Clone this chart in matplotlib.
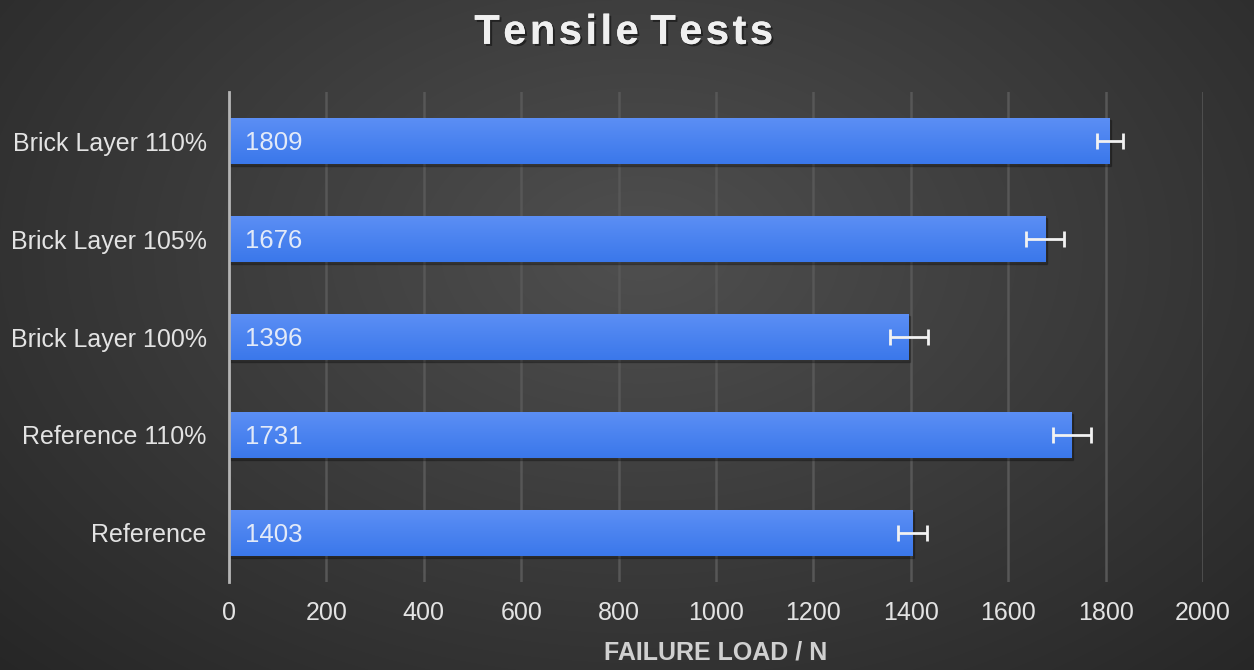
import numpy as np
import matplotlib
matplotlib.use('Agg')
import matplotlib.pyplot as plt
import matplotlib.patheffects as pe

categories = ['Reference', 'Reference 110%', 'Brick Layer 100%', 'Brick Layer 105%', 'Brick Layer 110%']
loads = [1403, 1731, 1396, 1676, 1809]
errors = [30, 40, 39, 39, 27]
xticks = [0, 200, 400, 600, 800, 1000, 1200, 1400, 1600, 1800, 2000]

plt.rcParams['font.family'] = ['Liberation Sans', 'DejaVu Sans']

fig = plt.figure(figsize=(12.54, 6.70), dpi=100)

# radial background
bg = fig.add_axes([0, 0, 1, 1])
yy, xx = np.mgrid[0:670, 0:1254]
r = np.sqrt(((xx - 640) / 900.0) ** 2 + ((yy - 250) / 600.0) ** 2)
shade = np.clip(0.31 - 0.16 * r, 0.14, 0.31)
bg.imshow(np.dstack([shade, shade, shade]), aspect='auto', extent=[0, 1, 0, 1])
bg.axis('off')

ax = fig.add_axes([229 / 1254, 1 - 582 / 670, (1203 - 229) / 1254, (582 - 92) / 670])
ax.patch.set_alpha(0)

y = np.arange(len(categories))
bars = ax.barh(y, loads, height=0.47, color='#4285f4', zorder=3)

# bar gradient + shadow
grad = np.linspace(0, 1, 50).reshape(-1, 1)
top = np.array([0.36, 0.56, 0.96])
bot = np.array([0.23, 0.47, 0.92])
img = top + (bot - top) * grad[:, :, None] * np.ones((1, 2, 3))
for b in bars:
    x0, y0, w, h = b.get_x(), b.get_y(), b.get_width(), b.get_height()
    ax.add_patch(plt.Rectangle((x0 + 3, y0 - 0.025), w, h, color='black', alpha=0.25, zorder=2))
    im = ax.imshow(img, extent=[x0, x0 + w, y0, y0 + h], aspect='auto', zorder=3.5, origin='upper')
    im.set_clip_path(b)

ax.errorbar(loads, y, xerr=errors, fmt='none', ecolor='#f2f2f2', elinewidth=2,
            capsize=6, capthick=2, zorder=5)

for yi, v in zip(y, loads):
    ax.text(33, yi, str(v), va='center_baseline', ha='left', fontsize=18.5, color='#e3eaf8', zorder=6)

ax.set_xlim(0, 2000)
ax.set_ylim(-0.5, len(categories) - 0.5)
ax.set_xticks(xticks)
ax.set_yticks(y)
ax.set_yticklabels(categories)
ax.xaxis.grid(True, color='#575757', linewidth=1.8, zorder=0)
ax.set_axisbelow(True)
for s in ['top', 'right', 'bottom']:
    ax.spines[s].set_visible(False)
ax.spines['left'].set_color('#b5b5b5')
ax.spines['left'].set_linewidth(2)
ax.spines['left'].set_zorder(7)
ax.tick_params(axis='both', length=0, labelsize=18, colors='#e3e3e3')
ax.tick_params(axis='x', pad=14)
ax.tick_params(axis='y', pad=16)

ax.set_xlabel('FAILURE LOAD / N', fontsize=18, fontweight='bold', color='#d0d0d0', labelpad=11)

fig.text(0.4976, 0.951, 'T e n s i l e   T e s t s'.replace(' ', '\u200a').replace('\u200a\u200a\u200a', ' '),
         ha='center', va='center', fontsize=30, fontweight='bold', color='#f0f0f0',
         path_effects=[pe.withSimplePatchShadow(offset=(1.5, -1.5), shadow_rgbFace='black', alpha=0.45), pe.Normal()])

fig.savefig('out.png', dpi=100)
